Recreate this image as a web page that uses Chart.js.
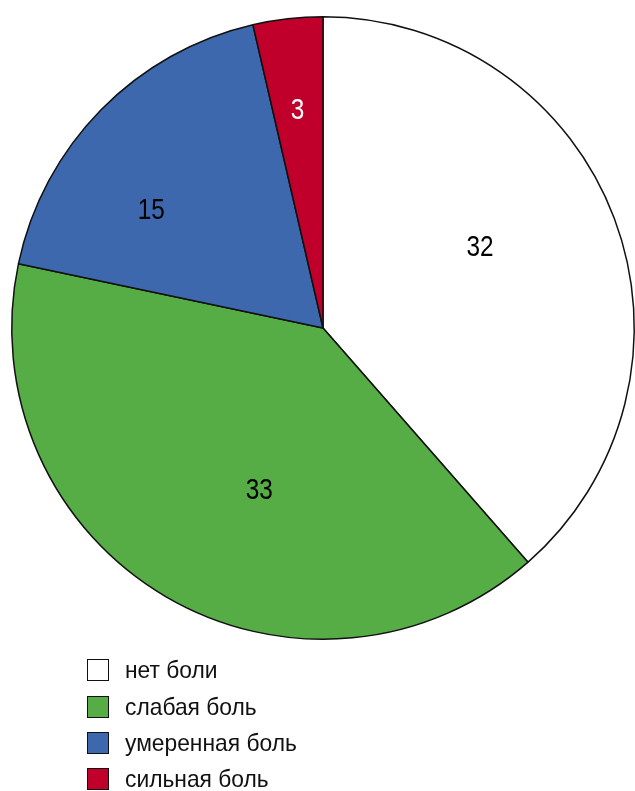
<!DOCTYPE html>
<html>
<head>
<meta charset="utf-8">
<script src="https://cdn.jsdelivr.net/npm/chart.js@4/dist/chart.umd.min.js"></script>
<style>
  html, body { margin: 0; padding: 0; background: #fff; overflow: hidden; width: 635px; height: 791px; }
  #wrap { position: absolute; left: 0; top: 0; width: 646px; height: 656px; }
  #legend { position: absolute; left: 87px; top: 652px; font-family: "Liberation Sans", Arial, sans-serif; font-size: 24px; color: #111; }
  .row { display: flex; align-items: center; height: 36.4px; }
  .box { width: 20px; height: 20px; border: 1.5px solid #111; margin-right: 16px; box-sizing: content-box; flex: none; }
  .txt { display: inline-block; transform: scaleX(0.95); transform-origin: left center; white-space: nowrap; }
</style>
</head>
<body>
<div id="wrap"><canvas id="c"></canvas></div>
<div id="legend"></div>
<script>
const categories = ["нет боли", "слабая боль", "умеренная боль", "сильная боль"];
const values = [32, 33, 15, 3];
const colors = ["#ffffff", "#56ac45", "#3d68ae", "#c0002b"];
const labelColors = ["#000000", "#000000", "#000000", "#ffffff"];
// radial placement of each value label plus a small nudge in pixels
const labelRadius = [0.57, 0.57, 0.57, 0.72];
const labelNudge = [[-9, -19], [26, 9], [-45, 6], [0, 5]];

const FONT = '"Liberation Sans", Arial, sans-serif';

const sliceLabels = {
  id: 'sliceLabels',
  afterDatasetsDraw(chart) {
    const ctx = chart.ctx;
    const meta = chart.getDatasetMeta(0);
    ctx.save();
    ctx.font = '29px ' + FONT;
    ctx.textAlign = 'center';
    ctx.textBaseline = 'middle';
    meta.data.forEach((arc, i) => {
      const p = arc.getProps(['x', 'y', 'startAngle', 'endAngle', 'outerRadius'], true);
      const mid = (p.startAngle + p.endAngle) / 2;
      const r = p.outerRadius * labelRadius[i];
      const x = p.x + Math.cos(mid) * r + labelNudge[i][0];
      const y = p.y + Math.sin(mid) * r + labelNudge[i][1];
      ctx.save();
      ctx.translate(x, y);
      ctx.scale(0.84, 1);
      ctx.fillStyle = labelColors[i];
      ctx.fillText(String(values[i]), 0, 1);
      ctx.restore();
    });
    ctx.restore();
  }
};

new Chart(document.getElementById('c'), {
  type: 'pie',
  data: {
    labels: categories,
    datasets: [{
      data: values,
      backgroundColor: colors,
      borderColor: '#111111',
      borderWidth: 1.5,
      borderAlign: 'center'
    }]
  },
  options: {
    responsive: true,
    maintainAspectRatio: false,
    animation: false,
    layout: { padding: { top: 16, bottom: 16, left: 11, right: 11 } },
    plugins: { legend: { display: false }, tooltip: { enabled: false } }
  },
  plugins: [sliceLabels]
});

const legend = document.getElementById('legend');
categories.forEach((name, i) => {
  const row = document.createElement('div');
  row.className = 'row';
  const box = document.createElement('div');
  box.className = 'box';
  box.style.background = colors[i];
  const txt = document.createElement('span');
  txt.className = 'txt';
  txt.textContent = name;
  row.appendChild(box);
  row.appendChild(txt);
  legend.appendChild(row);
});
</script>
</body>
</html>
